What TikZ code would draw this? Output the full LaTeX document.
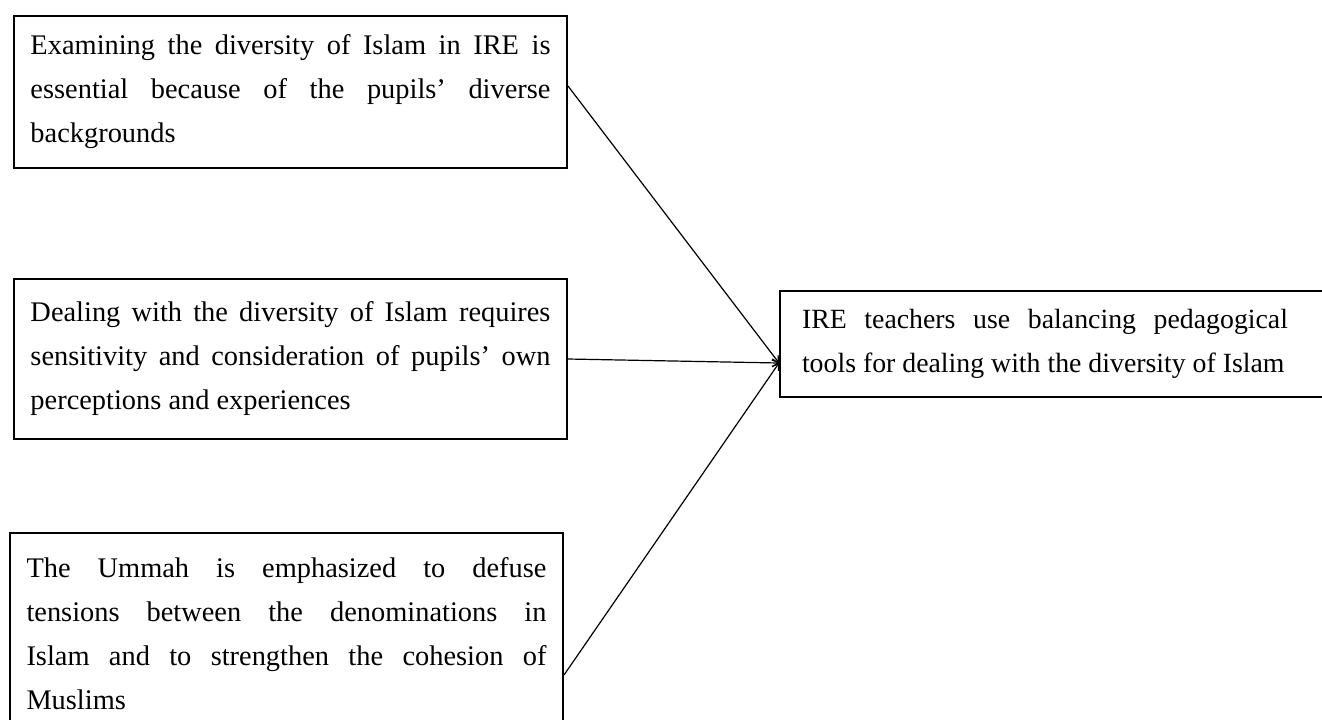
\documentclass[tikz,border=0pt]{standalone}
\usepackage{fontspec}
\setmainfont{Liberation Serif}
\usepackage{tikz}
\usetikzlibrary{positioning,arrows.meta}
\tikzset{
  blk/.style={draw,line width=1pt,align=justify,text width=260pt,inner xsep=8.25pt,
              inner ysep=0pt,font=\fontsize{14.2}{22}\selectfont},
  fl/.style={-{Straight Barb[length=1mm,width=1.4mm]},line width=0.6pt},
}

\begin{document}
\begin{tikzpicture}
\useasboundingbox (0,0) rectangle (661pt,-359.5pt);
% themes
\node[blk,minimum height=76pt,anchor=north west] (div) at (6.5pt,-7.5pt)
  {Examining the diversity of Islam in IRE is\linebreak essential because of the pupils’ diverse\linebreak backgrounds};
\node[blk,minimum height=80pt,below=54.5pt of div] (sens)
  {Dealing with the diversity of Islam requires\linebreak sensitivity and consideration of pupils’ own\linebreak perceptions and experiences};
\node[blk,minimum height=101pt,below=46pt of sens,xshift=-2pt] (umma)
  {The Ummah is emphasized to defuse\linebreak tensions between the denominations in\linebreak Islam and to strengthen the cohesion of\linebreak Muslims};
% main category
\node[blk,text width=262pt,inner xsep=11pt,minimum height=53pt,font=\fontsize{13.9}{22}\selectfont,
      right=105.5pt of sens,yshift=7.5pt] (ped)
  {\parbox{243pt}{IRE teachers use balancing pedagogical\linebreak tools for dealing with the diversity of Islam}};
\coordinate (hub) at ([yshift=-9.5pt]ped.west);
% flows
\draw[fl] ([yshift=3pt]div.east) -- (hub);
\draw[fl] (sens.east) -- (hub);
\draw[fl] ([yshift=-20.5pt]umma.east) -- (hub);
\end{tikzpicture}
\end{document}
